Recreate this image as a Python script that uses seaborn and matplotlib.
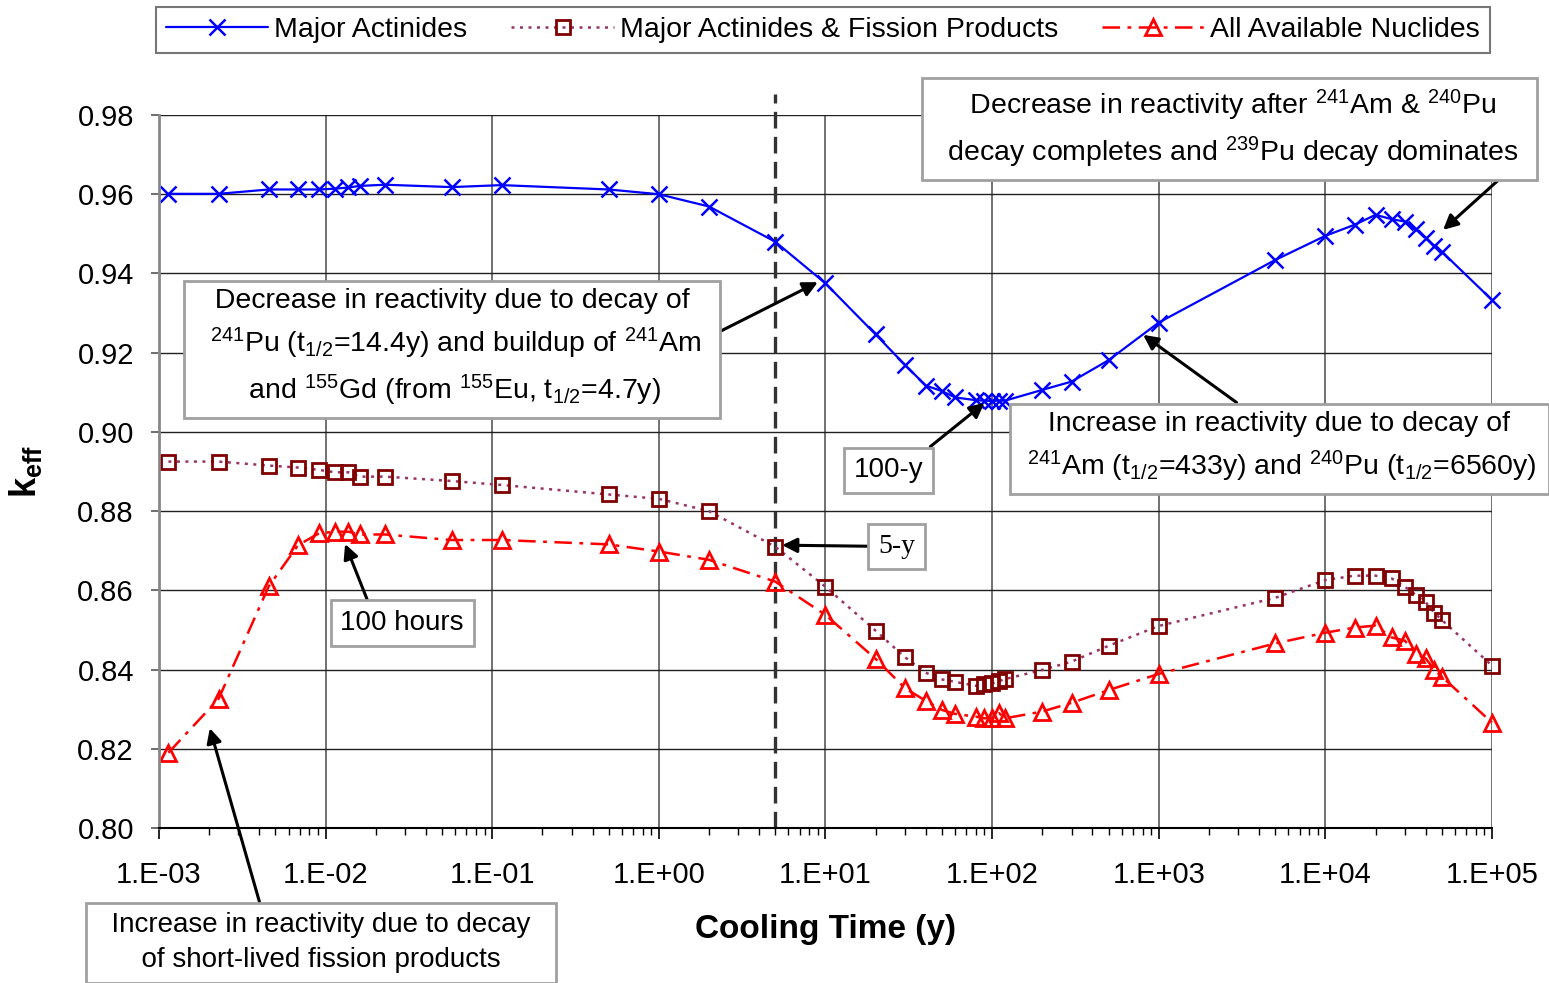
import numpy as np
import pandas as pd
import matplotlib
matplotlib.use("Agg")
import matplotlib.pyplot as plt
import seaborn as sns
from matplotlib.ticker import FixedLocator, FixedFormatter, FormatStrFormatter, LogLocator, NullFormatter

# cooling times in years (10 h ... 1000 h, then years)
cool_time = [0.00114, 0.00228, 0.00456, 0.00684, 0.00913, 0.0114, 0.0137, 0.016, 0.0228, 0.057, 0.114,
             0.5, 1, 2, 5, 10, 20, 30, 40, 50, 60, 80, 90, 100, 110, 120, 200, 300, 500, 1000,
             5000, 10000, 15000, 20000, 25000, 30000, 35000, 40000, 45000, 50000, 100000]

k_major = [0.9601, 0.9601, 0.9612, 0.9612, 0.9612, 0.9614, 0.9617, 0.9621, 0.9624, 0.9618, 0.9623,
           0.9612, 0.9600, 0.9569, 0.9480, 0.9375, 0.9246, 0.9169, 0.9117, 0.9103, 0.9087, 0.9080, 0.9079,
           0.9078, 0.9079, 0.9079, 0.9106, 0.9127, 0.9181, 0.9276, 0.9434, 0.9495, 0.9523, 0.9548,
           0.9537, 0.9531, 0.9511, 0.9490, 0.9469, 0.9455, 0.9333]

k_fp = [0.8925, 0.8925, 0.8915, 0.8910, 0.8904, 0.8898, 0.8898, 0.8887, 0.8887, 0.8876, 0.8866,
        0.8842, 0.8831, 0.8800, 0.8710, 0.8609, 0.8498, 0.8431, 0.8392, 0.8375, 0.8369, 0.8359, 0.8364,
        0.8365, 0.8371, 0.8376, 0.8399, 0.8420, 0.8460, 0.8510, 0.8581, 0.8626, 0.8637, 0.8637,
        0.8630, 0.8609, 0.8588, 0.8570, 0.8544, 0.8525, 0.8410]

k_all = [0.8190, 0.8326, 0.8610, 0.8714, 0.8744, 0.8748, 0.8748, 0.8741, 0.8741, 0.8727, 0.8727,
         0.8716, 0.8698, 0.8677, 0.8622, 0.8538, 0.8427, 0.8353, 0.8321, 0.8298, 0.8288, 0.8281, 0.8277,
         0.8277, 0.8290, 0.8277, 0.8294, 0.8316, 0.8348, 0.8389, 0.8466, 0.8493, 0.8506, 0.8511,
         0.8481, 0.8473, 0.8439, 0.8428, 0.8400, 0.8382, 0.8266]

series_names = ["Major Actinides", "Major Actinides & Fission Products", "All Available Nuclides"]
xtick_vals = [1e-3, 1e-2, 1e-1, 1e0, 1e1, 1e2, 1e3, 1e4, 1e5]
xtick_labels = ["1.E-03", "1.E-02", "1.E-01", "1.E+00", "1.E+01", "1.E+02", "1.E+03", "1.E+04", "1.E+05"]
ytick_vals = [0.80, 0.82, 0.84, 0.86, 0.88, 0.90, 0.92, 0.94, 0.96, 0.98]

sns.set_style("white")
plt.rcParams['font.family'] = ['Liberation Sans', 'DejaVu Sans']
plt.rcParams['mathtext.fontset'] = 'custom'
plt.rcParams['mathtext.rm'] = 'Liberation Sans'
plt.rcParams['mathtext.it'] = 'Liberation Sans:italic'
plt.rcParams['mathtext.bf'] = 'Liberation Sans:bold'
plt.rcParams['text.color'] = 'black'
plt.rcParams['axes.labelcolor'] = 'black'

fig = plt.figure(figsize=(15.49, 9.83), dpi=100)
ax = fig.add_axes([0.1026, 0.1577, 0.8606, 0.7253])

sns.lineplot(x=cool_time, y=k_major, ax=ax, color="#0000FF", lw=1.6, marker="x", ms=11,
             mec="#0000FF", mew=1.8, label=series_names[0], errorbar=None, sort=False, clip_on=False)
sns.lineplot(x=cool_time, y=k_fp, ax=ax, color="#993366", lw=1.8, linestyle=(0, (1.2, 2.2)),
             marker="s", ms=10, mfc="none", mec="#800000", mew=2, label=series_names[1],
             errorbar=None, sort=False, clip_on=False)
sns.lineplot(x=cool_time, y=k_all, ax=ax, color="#FF0000", lw=1.8, linestyle=(0, (7, 3, 1.5, 3)),
             marker="^", ms=11, mfc="none", mec="#FF0000", mew=2, label=series_names[2],
             errorbar=None, sort=False, clip_on=False)

ax.set_xscale("log")
ax.set_xlim(1e-3, 1e5)
ax.set_ylim(0.80, 0.98)
ax.xaxis.set_major_locator(FixedLocator(xtick_vals))
ax.xaxis.set_major_formatter(FixedFormatter(xtick_labels))
ax.xaxis.set_minor_locator(LogLocator(base=10, subs=np.arange(2, 10), numticks=100))
ax.xaxis.set_minor_formatter(NullFormatter())
ax.yaxis.set_major_locator(FixedLocator(ytick_vals))
ax.yaxis.set_major_formatter(FormatStrFormatter("%.2f"))

ax.grid(True, axis="y", color="#202020", lw=1)
ax.grid(True, axis="x", which="major", color="#666666", lw=1.3)
for s in ["top", "right"]:
    ax.spines[s].set_visible(False)
ax.spines["left"].set_color("#888888")
ax.spines["left"].set_linewidth(2)
ax.spines["bottom"].set_color("#000000")
ax.spines["bottom"].set_linewidth(1.5)
ax.tick_params(axis="y", which="major", direction="out", length=6, width=1.2, color="#555555",
               labelsize=21, pad=12, left=True, labelcolor="black")
ax.tick_params(axis="x", which="major", direction="out", length=8, width=1.2, color="#000000",
               labelsize=21, pad=16, bottom=True, labelcolor="black")
ax.tick_params(axis="x", which="minor", direction="out", length=5, width=1, color="#000000", bottom=True)

ax.set_xlabel("Cooling Time (y)", fontsize=24, fontweight="bold")
ax.xaxis.set_label_coords(0.5, -0.12)
ax.set_ylabel(r"$\mathbf{k_{eff}}$", fontsize=26)
ax.yaxis.set_label_coords(-0.086, 0.5)

# 5-year reference line
ax.axvline(5, ymin=0, ymax=1.03, color="#333333", lw=2.4, ls=(0, (5, 2.5)), clip_on=False, zorder=1)

box = dict(boxstyle="square,pad=0.35", fc="white", ec="#A0A0A0", lw=2)


def arrow(rx, ry):
    return dict(arrowstyle="-|>", color="black", lw=2.2, mutation_scale=22,
                shrinkA=0, shrinkB=0, relpos=(rx, ry))


ax.annotate(r"  Decrease in reactivity after $\mathregular{^{241}}$Am & $\mathregular{^{240}}$Pu  " "\n"
            r"  decay completes and $\mathregular{^{239}}$Pu decay dominates  ",
            xy=(50900, 0.951), xytext=(2665, 0.9765), fontsize=20.5, ha="center", va="center",
            multialignment="center", linespacing=1.45, bbox=box, arrowprops=arrow(0.97, 0),
            annotation_clip=False)
ax.annotate(r"  Decrease in reactivity due to decay of  " "\n"
            r"  $\mathregular{^{241}}$Pu (t$\mathregular{_{1/2}}$=14.4y) and buildup of $\mathregular{^{241}}$Am  " "\n"
            r"  and $\mathregular{^{155}}$Gd (from $\mathregular{^{155}}$Eu, t$\mathregular{_{1/2}}$=4.7y)  ",
            xy=(9.0, 0.9378), xytext=(0.0574, 0.9211), fontsize=20.5, ha="center", va="center",
            multialignment="center", linespacing=1.45, bbox=box, arrowprops=arrow(1, 0.6),
            annotation_clip=False)
ax.annotate("100-y", xy=(90, 0.9073), xytext=(23.9, 0.8903), fontsize=20, ha="center", va="center",
            bbox=box, arrowprops=arrow(0.91, 1), annotation_clip=False)
ax.annotate(r" Increase in reactivity due to decay of " "\n"
            r" $\mathregular{^{241}}$Am (t$\mathregular{_{1/2}}$=433y) and $\mathregular{^{240}}$Pu (t$\mathregular{_{1/2}}$=6560y) ",
            xy=(806, 0.9245), xytext=(5281, 0.8961), fontsize=20.5, ha="center", va="center",
            multialignment="center", linespacing=1.45, bbox=box, arrowprops=arrow(0.44, 1),
            annotation_clip=False)
ax.annotate("5-y", xy=(5.5, 0.8714), xytext=(26.7, 0.8711), fontsize=20, ha="center", va="center",
            family="Liberation Serif", bbox=box, arrowprops=arrow(0, 0.5), annotation_clip=False)
ax.annotate("100 hours", xy=(0.0131, 0.8717), xytext=(0.0288, 0.8518), fontsize=20, ha="center",
            va="center", bbox=box, arrowprops=arrow(0.25, 1), annotation_clip=False)
ax.annotate("  Increase in reactivity due to decay  \n  of short-lived fission products  ",
            xy=(0.00202, 0.8252), xytext=(0.00938, 0.7710), fontsize=20, ha="center", va="center",
            multialignment="center", linespacing=1.45, bbox=box, arrowprops=arrow(0.37, 1),
            annotation_clip=False)

handles, labels = ax.get_legend_handles_labels()
ax.get_legend().remove()
leg = fig.legend(handles, labels, loc="upper left", bbox_to_anchor=(0.1007, 0.942, 0.8612, 0.0509),
                 mode="expand", ncol=3, fontsize=20.5, frameon=True, fancybox=False,
                 edgecolor="#555555", handlelength=3.6, handletextpad=0.2, borderaxespad=0,
                 borderpad=0.35, columnspacing=1.0)
leg.get_frame().set_linewidth(1.5)
for txt in leg.get_texts():
    txt.set_color("black")

fig.savefig("out.png", dpi=100)
